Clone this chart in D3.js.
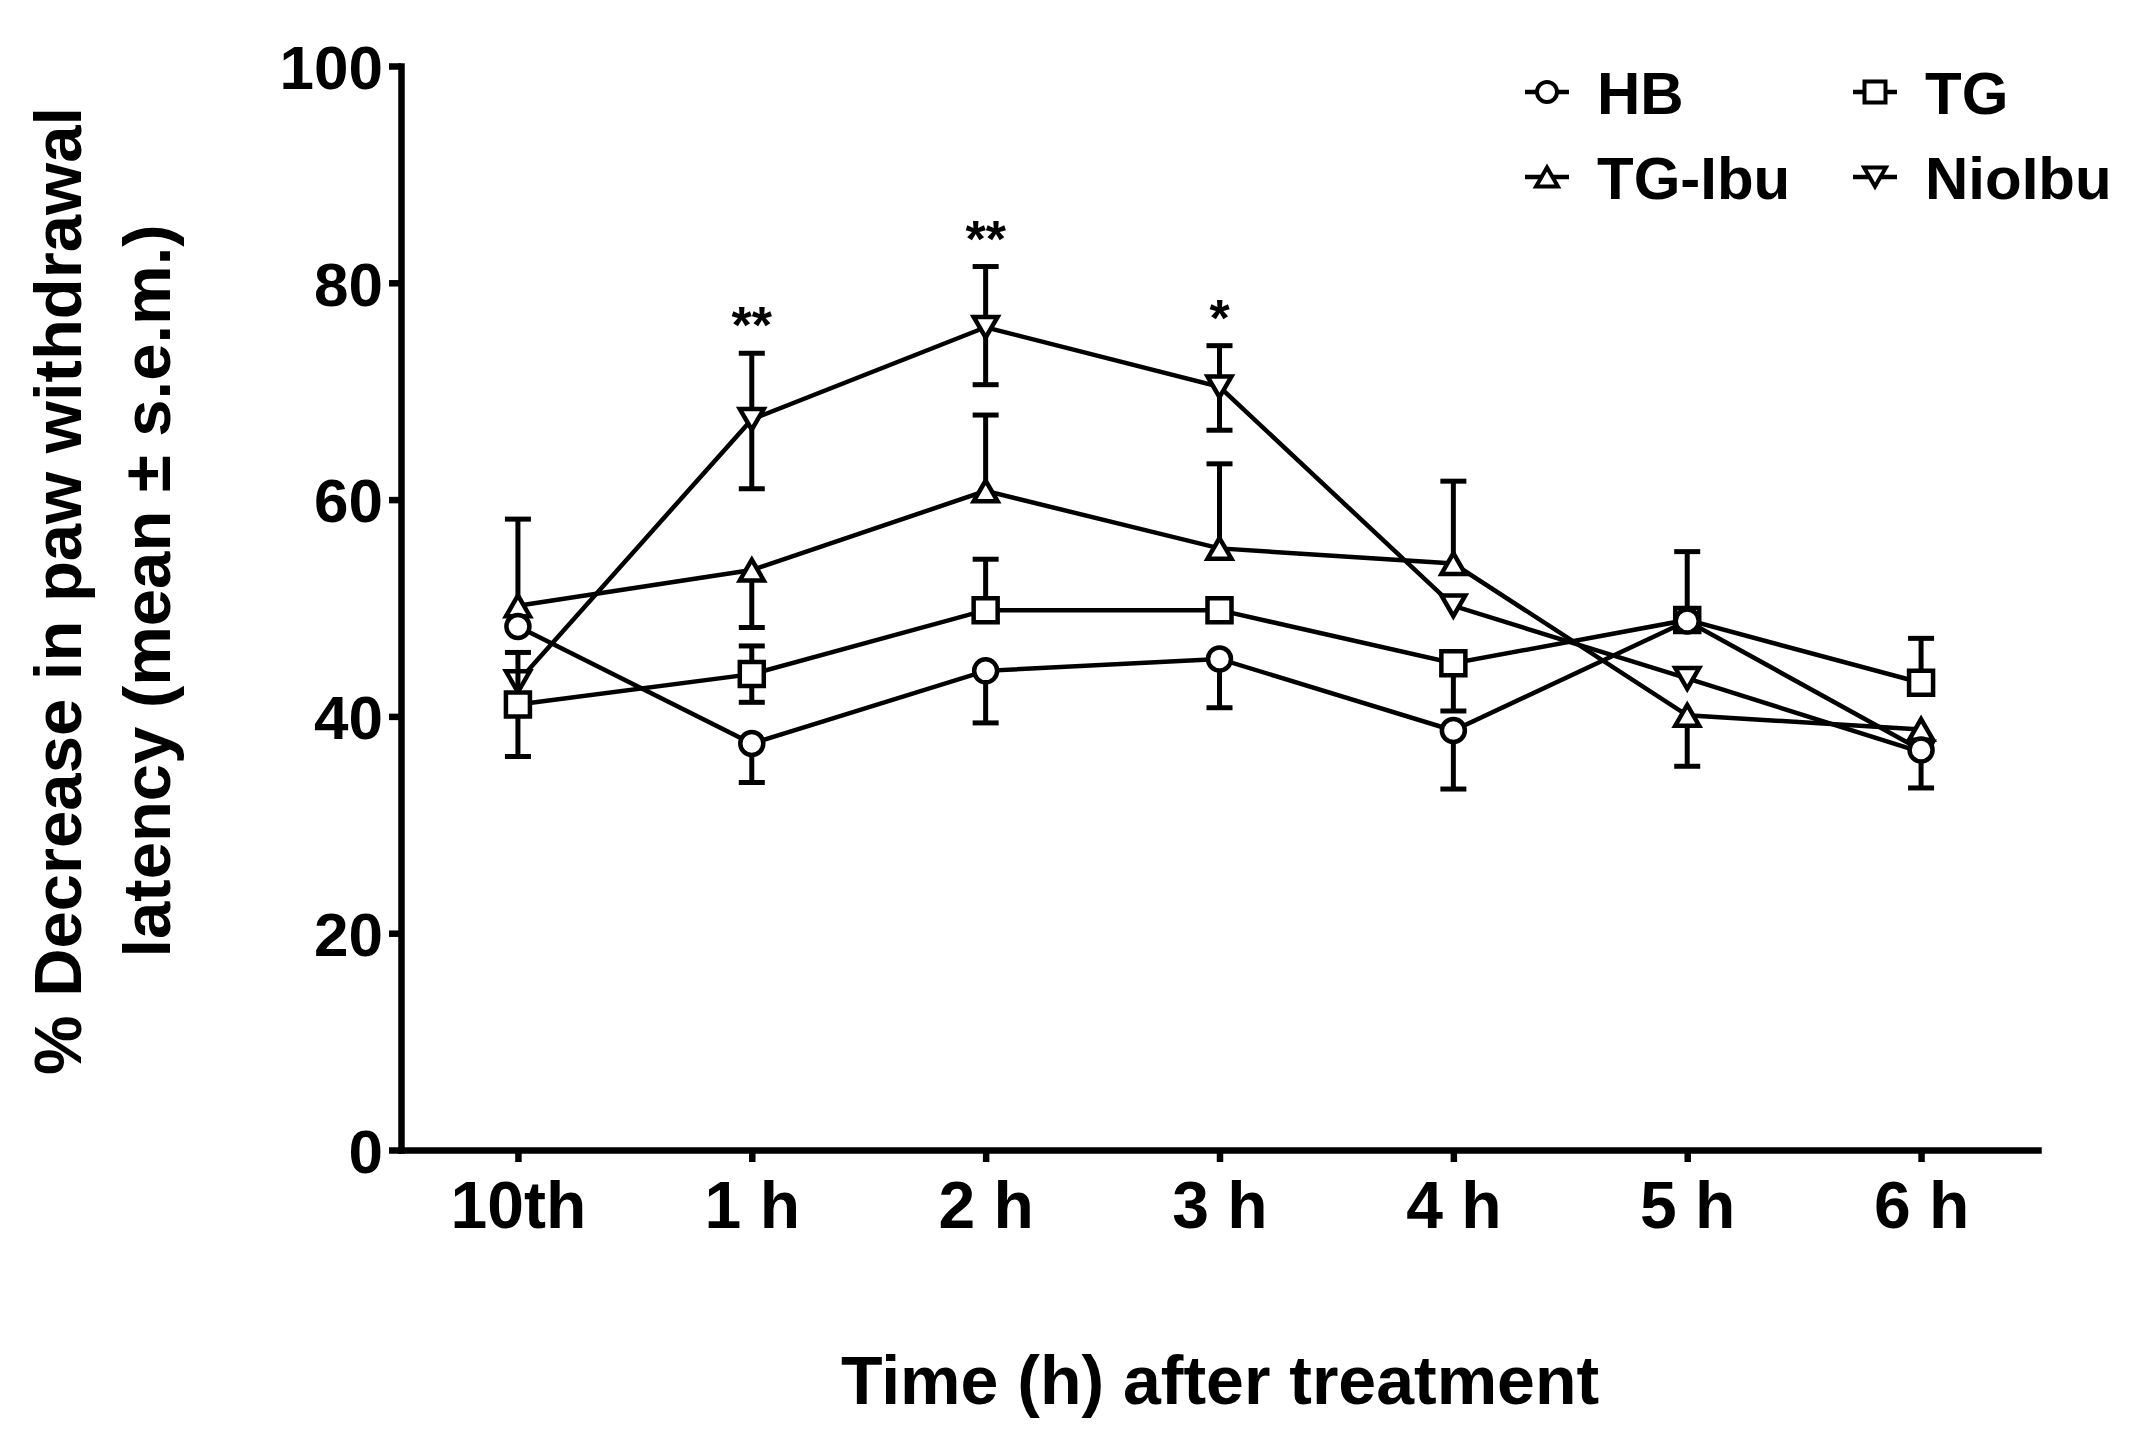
<!DOCTYPE html>
<html>
<head>
<meta charset="utf-8">
<script src="https://cdn.jsdelivr.net/npm/d3@7"></script>
<style>
  body { margin: 0; background: #fff; }
  text { font-family: "Liberation Sans", Arial, sans-serif; font-weight: bold; fill: #000; }
</style>
</head>
<body>
<svg id="chart" width="2141" height="1443"></svg>
<script>
// categories (time points)
const times = ["10th", "1 h", "2 h", "3 h", "4 h", "5 h", "6 h"];
const yTicks = [0, 20, 40, 60, 80, 100];

// series means (% decrease in paw withdrawal latency)
const hb = [48.3, 37.5, 44.2, 45.3, 38.7, 48.8, 36.9];
const tg = [41.1, 43.9, 49.8, 49.8, 44.9, 48.9, 43.1];
const tgIbu = [50.2, 53.5, 60.8, 55.5, 54.1, 40.1, 38.8];
const nioIbu = [43.2, 67.4, 75.9, 70.4, 50.2, 43.5, 36.7];

// s.e.m. as drawn (upper / lower half of each error bar, 0 = not shown)
const hbUp = [0, 0, 0, 0, 0, 0, 0];
const hbDown = [0, 3.6, 4.8, 4.5, 5.4, 0, 3.5];
const tgUp = [4.8, 2.6, 4.7, 0, 0, 6.3, 4.1];
const tgDown = [4.8, 2.6, 0, 0, 4.4, 0, 0];
const tgIbuUp = [8.0, 0, 7.0, 7.8, 7.6, 0, 0];
const tgIbuDown = [0, 5.3, 0, 0, 0, 4.7, 0];
const nioIbuUp = [0, 6.1, 5.6, 3.8, 0, 0, 0];
const nioIbuDown = [0, 6.4, 5.3, 4.0, 0, 0, 0];

// significance marks (NioIbu)
const starTimes = ["1 h", "2 h", "3 h"];
const starLabels = ["**", "**", "*"];

// custom triangles (bbox centred, like prism)
const triUp = {
  draw(p, size) {
    const r = Math.sqrt(size);
    p.moveTo(0, -r * 0.45);
    p.lineTo(r * 0.52, r * 0.45);
    p.lineTo(-r * 0.52, r * 0.45);
    p.closePath();
  }
};
const triDown = {
  draw(p, size) {
    const r = Math.sqrt(size);
    p.moveTo(0, r * 0.45);
    p.lineTo(r * 0.52, -r * 0.45);
    p.lineTo(-r * 0.52, -r * 0.45);
    p.closePath();
  }
};

const series = [
  { name: "NioIbu", values: nioIbu, up: nioIbuUp, down: nioIbuDown, type: triDown, size: 23 * 23 },
  { name: "TG-Ibu", values: tgIbu, up: tgIbuUp, down: tgIbuDown, type: triUp, size: 23 * 23 },
  { name: "TG", values: tg, up: tgUp, down: tgDown, type: d3.symbolSquare, size: 24 * 24 },
  { name: "HB", values: hb, up: hbUp, down: hbDown, type: d3.symbolCircle, size: Math.PI * 11.5 * 11.5 }
];

const svg = d3.select("#chart");

const x = d3.scalePoint().domain(times).range([401, 2038]).padding(0.5);
const y = d3.scaleLinear().domain([0, 100]).range([1150, 66]);

// axes
const yAxis = svg
  .append("g")
  .attr("transform", "translate(401,0)")
  .call(d3.axisLeft(y).tickValues(yTicks).tickSize(12).tickSizeOuter(0).tickPadding(6));
const xAxis = svg
  .append("g")
  .attr("transform", "translate(0,1150)")
  .call(d3.axisBottom(x).tickSize(12).tickSizeOuter(0).tickPadding(18));

[yAxis, xAxis].forEach((g) => {
  g.select(".domain").attr("stroke", "#000").attr("stroke-width", 6.5).attr("stroke-linecap", "square");
  g.selectAll(".tick line").attr("stroke", "#000").attr("stroke-width", 6.5);
  g.selectAll("text").attr("font-family", null).attr("fill", "#000");
});
yAxis.selectAll("text").style("font-size", "62px").attr("dy", "0.36em");
xAxis.selectAll("text").style("font-size", "66px").attr("dy", "0.72em");

// axis titles
svg
  .append("text")
  .attr("x", 1220)
  .attr("y", 1404)
  .attr("text-anchor", "middle")
  .style("font-size", "68px")
  .text("Time (h) after treatment");

const yTitle = svg
  .append("text")
  .attr("transform", "translate(0,591) rotate(-90)")
  .attr("text-anchor", "middle")
  .style("font-size", "67px");
yTitle.append("tspan").attr("x", 0).attr("y", 81).text("% Decrease in paw withdrawal");
yTitle.append("tspan").attr("x", 0).attr("y", 170).text("latency (mean \u00b1 s.e.m.)");

// data
const plot = svg.append("g");
const line = d3
  .line()
  .x((d, i) => x(times[i]))
  .y((d) => y(d));

series.forEach((s) => {
  const g = plot.append("g").attr("class", "series");

  // error bars
  s.values.forEach((v, i) => {
    const cx = x(times[i]);
    [
      [s.up[i], 1],
      [s.down[i], -1]
    ].forEach(([e, sign]) => {
      if (!e) return;
      const ye = y(v + sign * e);
      g.append("line")
        .attr("x1", cx).attr("x2", cx)
        .attr("y1", y(v)).attr("y2", ye)
        .attr("stroke", "#000").attr("stroke-width", 5);
      g.append("line")
        .attr("x1", cx - 13).attr("x2", cx + 13)
        .attr("y1", ye).attr("y2", ye)
        .attr("stroke", "#000").attr("stroke-width", 5);
    });
  });

  g.append("path")
    .datum(s.values)
    .attr("d", line)
    .attr("fill", "none")
    .attr("stroke", "#000")
    .attr("stroke-width", 4.5);

  g.selectAll(".marker")
    .data(s.values)
    .join("path")
    .attr("class", "marker")
    .attr("transform", (d, i) => `translate(${x(times[i])},${y(d)})`)
    .attr("d", d3.symbol(s.type, s.size))
    .attr("fill", "#fff")
    .attr("stroke", "#000")
    .attr("stroke-width", 4.5);
});

// significance stars above NioIbu upper caps
svg
  .append("g")
  .selectAll("text")
  .data(starTimes)
  .join("text")
  .attr("x", (d) => x(d))
  .attr("y", (d) => {
    const i = times.indexOf(d);
    return y(nioIbu[i] + nioIbuUp[i]) - 10;
  })
  .attr("text-anchor", "middle")
  .style("font-size", "52px")
  .text((d, i) => starLabels[i]);

// legend
const legendItems = [
  { name: "HB", type: d3.symbolCircle, size: Math.PI * 10 * 10, x: 1547, y: 92 },
  { name: "TG", type: d3.symbolSquare, size: 21 * 21, x: 1875, y: 92 },
  { name: "TG-Ibu", type: triUp, size: 21 * 21, x: 1547, y: 177 },
  { name: "NioIbu", type: triDown, size: 21 * 21, x: 1875, y: 177 }
];
const legend = svg.append("g");
legendItems.forEach((d) => {
  const g = legend.append("g").attr("transform", `translate(${d.x},${d.y})`);
  g.append("line")
    .attr("x1", -22).attr("x2", 22)
    .attr("stroke", "#000").attr("stroke-width", 4.5);
  g.append("path")
    .attr("d", d3.symbol(d.type, d.size))
    .attr("fill", "#fff")
    .attr("stroke", "#000")
    .attr("stroke-width", 4);
  g.append("text")
    .attr("x", 50)
    .attr("y", 22)
    .style("font-size", "60px")
    .text(d.name);
});
</script>
</body>
</html>
